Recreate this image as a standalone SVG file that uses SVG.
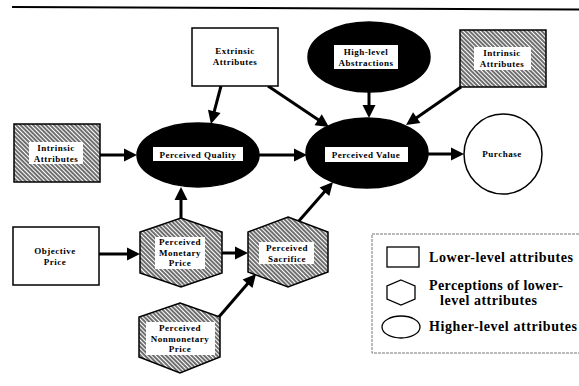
<svg xmlns="http://www.w3.org/2000/svg" width="579" height="386" viewBox="0 0 579 386">
<style>
.box{fill:#fff;stroke:#000;stroke-width:1.5}
.hat{fill:url(#hatch);stroke:#000;stroke-width:1.5}
.blk{fill:#000;stroke:#000;stroke-width:1.5}
.lbl{fill:#fff;stroke:none}
.t{font-family:"Liberation Serif","Times New Roman",serif;font-weight:bold;font-size:9px;letter-spacing:0.5px;text-anchor:middle;fill:#000}
.lg{font-family:"Liberation Serif","Times New Roman",serif;font-weight:bold;font-size:14px;fill:#000}
.c{stroke:#000;stroke-width:3;fill:none;marker-end:url(#ah)}
</style>
<defs>
<pattern id="hatch" patternUnits="userSpaceOnUse" width="3" height="3" patternTransform="rotate(-45)">
<rect width="3" height="3" fill="#fff"/>
<line x1="1" y1="0" x2="1" y2="3" stroke="#222" stroke-width="1.3"/>
</pattern>
<marker id="ah" markerUnits="userSpaceOnUse" markerWidth="16" markerHeight="16" viewBox="0 -8 14 16" refX="1" refY="0" orient="auto">
<path d="M0,-6.5 L13,0 L0,6.5 z" fill="#000"/>
</marker>
</defs>
<line x1="12" y1="7" x2="579" y2="9.5" stroke="#000" stroke-width="2"/>

<g id="connectors">
<line class="c" x1="221" y1="86" x2="214" y2="112.4"/>
<line class="c" x1="268" y1="86" x2="319" y2="120.3"/>
<line class="c" x1="369" y1="92" x2="369" y2="106"/>
<line class="c" x1="461" y1="87" x2="415.9" y2="118.2"/>
<line class="c" x1="100" y1="155" x2="125" y2="155"/>
<line class="c" x1="259" y1="155" x2="295" y2="155"/>
<line class="c" x1="428" y1="154" x2="452" y2="154"/>
<line class="c" x1="181" y1="218" x2="181" y2="199"/>
<line class="c" x1="99" y1="254" x2="128" y2="254"/>
<line class="c" x1="222" y1="253" x2="236" y2="253"/>
<line class="c" x1="218" y1="318" x2="248.2" y2="283.1"/>
<line class="c" x1="298" y1="222" x2="325.1" y2="191"/>
</g>

<g id="extrinsic-attributes">
<rect class="box" x="192" y="28" width="86" height="58"/>
<text class="t" x="235" y="54">Extrinsic</text>
<text class="t" x="235" y="65">Attributes</text>
</g>

<g id="high-level-abstractions">
<ellipse class="blk" cx="369" cy="57" rx="61" ry="35"/>
<rect class="lbl" x="334" y="45" width="64" height="24"/>
<text class="t" x="366" y="55">High-level</text>
<text class="t" x="366" y="66">Abstractions</text>
</g>

<g id="intrinsic-attributes-top">
<rect class="hat" x="460" y="30" width="86" height="57"/>
<rect class="lbl" x="474" y="47" width="57" height="23"/>
<text class="t" x="502" y="56">Intrinsic</text>
<text class="t" x="502" y="67">Attributes</text>
</g>

<g id="intrinsic-attributes-left">
<rect class="hat" x="14" y="124" width="86" height="58"/>
<rect class="lbl" x="29" y="142" width="54" height="22"/>
<text class="t" x="56" y="151">Intrinsic</text>
<text class="t" x="56" y="162">Attributes</text>
</g>

<g id="perceived-quality">
<ellipse class="blk" cx="198" cy="155" rx="61" ry="32"/>
<rect class="lbl" x="153" y="147" width="90" height="14"/>
<text class="t" x="198" y="158">Perceived Quality</text>
</g>

<g id="perceived-value">
<ellipse class="blk" cx="367" cy="153" rx="61" ry="35"/>
<rect class="lbl" x="325" y="147" width="83" height="15"/>
<text class="t" x="366" y="158">Perceived Value</text>
</g>

<g id="purchase">
<ellipse class="box" cx="503" cy="154" rx="39" ry="40"/>
<text class="t" x="502" y="157">Purchase</text>
</g>

<g id="objective-price">
<rect class="box" x="13" y="227" width="86" height="58"/>
<text class="t" x="55" y="254">Objective</text>
<text class="t" x="55" y="265">Price</text>
</g>

<g id="perceived-monetary-price">
<polygon class="hat" points="181,218 222,232 222,273 181,287 140,273 140,232"/>
<rect class="lbl" x="155" y="237" width="50" height="32"/>
<text class="t" x="180" y="245">Perceived</text>
<text class="t" x="180" y="255.5">Monetary</text>
<text class="t" x="180" y="266">Price</text>
</g>

<g id="perceived-sacrifice">
<polygon class="hat" points="288,217 328,232 328,272 288,287 248,272 248,232"/>
<rect class="lbl" x="259" y="242" width="55" height="22"/>
<text class="t" x="287" y="251">Perceived</text>
<text class="t" x="287" y="261.5">Sacrifice</text>
</g>

<g id="perceived-nonmonetary-price">
<polygon class="hat" points="180,303 220,317 220,357 180,373 139,357 139,317"/>
<rect class="lbl" x="146" y="322" width="69" height="33"/>
<text class="t" x="180" y="331">Perceived</text>
<text class="t" x="180" y="341.5">Nonmonetary</text>
<text class="t" x="180" y="352">Price</text>
</g>

<g id="legend">
<rect x="372" y="234" width="215" height="119" fill="#fff" stroke="#777" stroke-width="1" stroke-dasharray="3,1"/>
<rect x="387" y="247" width="32" height="20" fill="none" stroke="#000" stroke-width="1.3"/>
<text class="lg" x="429" y="262" textLength="144" lengthAdjust="spacing">Lower-level attributes</text>
<polygon points="401,280 415,286 415,299 401,305 387,299 387,286" fill="none" stroke="#000" stroke-width="1.3"/>
<text class="lg" x="429" y="290" textLength="134" lengthAdjust="spacing">Perceptions of lower-</text>
<text class="lg" x="440" y="305" textLength="97" lengthAdjust="spacing">level attributes</text>
<ellipse cx="401" cy="327" rx="19" ry="11" fill="none" stroke="#000" stroke-width="1.3"/>
<text class="lg" x="429" y="331" textLength="148" lengthAdjust="spacing">Higher-level attributes</text>
</g>
</svg>
